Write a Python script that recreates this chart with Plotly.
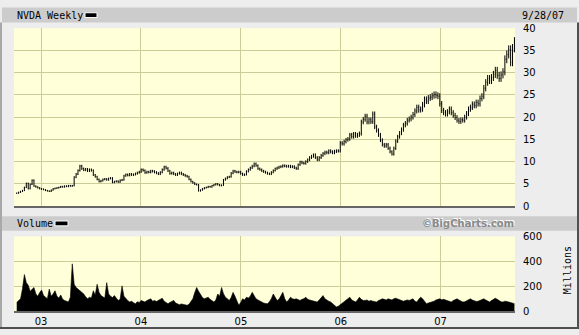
import pandas as pd
import plotly.graph_objects as go

W, H = 579, 335

# ---- data ----
start_week = "2002-10-04"
close = [
    2.9, 3.1, 3.3, 3.5, 4.2, 5.1, 3.9, 4.9, 5.8, 4.5,
    4.3, 4.1, 3.9, 3.8, 3.7, 3.5, 3.4, 3.3, 3.6, 3.9,
    4.0, 4.1, 4.2, 4.4, 4.3, 4.5, 4.4, 4.6, 4.5, 4.6,
    6.5, 7.2, 8.0, 9.0, 8.4, 8.1, 8.3, 7.9, 8.2, 8.0,
    7.0, 6.6, 6.0, 5.5, 5.7, 6.0, 6.1, 5.9, 6.2, 6.3,
    5.3, 5.5, 5.6, 5.4, 5.8, 5.9, 6.8, 7.1, 6.9, 7.2,
    7.0, 7.1, 7.3, 7.5, 7.7, 8.2, 8.0, 7.5, 7.7, 7.6,
    7.9, 7.8, 7.6, 7.4, 7.2, 7.6, 8.2, 8.8, 8.5, 7.9,
    7.3, 7.5, 7.2, 7.0, 7.3, 7.5, 7.2, 7.0, 6.8, 6.6,
    6.0, 5.5, 5.2, 4.9, 4.8, 3.4, 3.6, 3.9, 4.1, 4.2,
    4.4, 4.3, 4.6, 4.8, 5.0, 4.8, 4.6, 4.7, 5.9, 6.2,
    6.5, 6.6, 7.4, 7.9, 7.7, 7.6, 7.7, 7.3, 7.0, 7.1,
    7.8, 8.2, 8.6, 9.0, 9.5, 9.1, 8.4, 8.2, 7.9, 7.7,
    7.5, 7.3, 7.2, 7.6, 8.0, 8.4, 8.6, 8.8, 8.9, 9.1,
    9.0, 8.9, 9.0, 8.8, 8.9, 8.6, 8.4, 9.3, 9.9, 9.7,
    9.6, 10.0, 10.4, 10.9, 11.2, 11.5, 10.9, 10.4, 10.9, 11.4,
    11.8, 12.1, 12.0, 12.4, 12.2, 12.0, 12.3, 12.4, 12.4, 14.2,
    14.0, 14.5, 14.9, 15.1, 16.0, 15.6, 16.2, 15.8, 16.0, 16.3,
    18.9, 19.5, 20.2, 18.9, 19.4, 19.0, 20.7, 17.8, 17.0, 16.0,
    14.8, 13.8, 13.5, 13.8, 13.0, 12.2, 11.7, 13.0, 14.6, 15.6,
    16.4, 17.2, 18.2, 18.6, 19.3, 19.6, 20.0, 20.6, 21.4, 22.2,
    21.6, 21.8, 22.8, 24.0, 23.6, 24.3, 24.5, 24.8, 25.1, 24.9,
    24.7, 23.0, 21.5, 21.0, 20.7, 21.2, 21.8, 21.0, 20.4, 19.9,
    19.3, 19.0, 19.4, 19.3, 20.0, 20.8, 21.8, 22.2, 22.9, 22.6,
    23.3, 23.0, 24.2, 24.7, 26.5, 27.8, 28.7, 28.2, 28.9, 29.6,
    30.5, 29.4, 28.7, 29.5, 30.2, 33.0, 34.1, 35.2, 32.3, 35.5,
    37.0,
]
volume_m = [
    70, 85, 100, 180, 294, 229, 208, 160, 177, 190,
    138, 120, 150, 169, 125, 112, 100, 177, 120, 138,
    164, 120, 105, 130, 95, 86, 78, 73, 112, 380,
    216, 190, 177, 164, 150, 138, 115, 99, 112, 105,
    164, 130, 216, 151, 125, 112, 105, 229, 138, 120,
    110, 125, 100, 86, 95, 203, 120, 99, 85, 73,
    80, 68, 60, 75, 70, 86, 78, 73, 85, 90,
    99, 80, 86, 78, 85, 95, 104, 80, 70, 60,
    70, 78, 86, 65, 60, 52, 58, 55, 50, 47,
    55, 73, 100, 150, 190, 160, 138, 110, 99, 105,
    112, 95, 85, 73, 90, 138, 120, 190, 140, 112,
    100, 86, 110, 151, 120, 80, 47, 70, 99, 90,
    112, 105, 120, 151, 125, 99, 90, 80, 73, 65,
    62, 60, 75, 100, 138, 110, 86, 95, 120, 151,
    100, 73, 90, 112, 100, 95, 99, 90, 86, 95,
    100, 112, 95, 90, 86, 80, 78, 73, 90, 105,
    125, 100, 86, 80, 73, 60, 45, 34, 40, 52,
    60, 70, 85, 95, 112, 90, 80, 73, 90, 112,
    95, 86, 86, 90, 80, 86, 80, 75, 73, 85,
    92, 99, 95, 90, 99, 95, 90, 100, 104, 98,
    92, 86, 80, 85, 90, 86, 95, 99, 80, 73,
    95, 112, 100, 80, 60, 65, 70, 73, 80, 90,
    95, 99, 91, 95, 90, 85, 80, 73, 85, 95,
    99, 90, 80, 73, 75, 85, 95, 99, 90, 82,
    78, 80, 85, 95, 99, 90, 80, 73, 85, 95,
    104, 95, 85, 75, 73, 80, 78, 73, 70, 65,
    60,
]
price_ticks = [0, 5, 10, 15, 20, 25, 30, 35, 40]
volume_ticks = [0, 200, 400, 600]
title_text = "NVDA Weekly"
date_text = "9/28/07"

dates = pd.date_range(start_week, periods=len(close), freq="7D")
opens = [close[0]] + close[:-1]
high = [max(o, c) * 1.025 + 0.05 for o, c in zip(opens, close)]
low = [min(o, c) * 0.975 - 0.05 for o, c in zip(opens, close)]

# ---- styling ----
BG = "#EDEDED"
BAR = "#CCCCCC"
PLOT_BG = "#FFFFDA"
GRID = "#CCCC99"
MONO = "DejaVu Sans Mono"
SANS = "DejaVu Sans"


def px(x):
    return x / W


def py(y):
    return 1 - y / H


fig = go.Figure()
fig.add_trace(go.Ohlc(
    x=dates, open=opens, high=high, low=low, close=close,
    increasing=dict(line=dict(color="black", width=1)),
    decreasing=dict(line=dict(color="black", width=1)),
    tickwidth=0.25, xaxis="x", yaxis="y", showlegend=False, hoverinfo="skip",
))
fig.add_trace(go.Scatter(
    x=dates, y=volume_m, mode="lines", fill="tozeroy",
    line=dict(color="black", width=0.6), fillcolor="black",
    xaxis="x2", yaxis="y2", showlegend=False, hoverinfo="skip",
))

xdom = [px(14), px(515)]
xr = ["2002-09-24", "2007-09-30"]
common_x = dict(
    type="date", range=xr, domain=xdom, showgrid=True, gridcolor=GRID,
    gridwidth=1, dtick="M12", tick0="2003-01-01", ticks="",
    showline=True, linecolor="#666666", linewidth=2, zeroline=False,
    rangeslider=dict(visible=False), fixedrange=True,
)
fig.update_layout(
    width=W, height=H, margin=dict(l=0, r=0, t=0, b=0),
    paper_bgcolor=BG, plot_bgcolor=PLOT_BG,
    xaxis=dict(common_x, anchor="y", showticklabels=False),
    xaxis2=dict(common_x, anchor="y2", matches="x", tickformat="%y",
                tickfont=dict(family=SANS, size=10, color="black")),
    yaxis=dict(domain=[py(207.5), py(23)], range=[0, 40], tickvals=price_ticks,
               side="right", showgrid=True, gridcolor=GRID, zeroline=False,
               ticks="", ticklabelstandoff=7,
               tickfont=dict(family=SANS, size=10, color="black")),
    yaxis2=dict(domain=[py(316.5), py(239)], range=[0, 600], tickvals=volume_ticks,
                side="right", showgrid=True, gridcolor=GRID, zeroline=False,
                ticks="", ticklabelstandoff=7,
                tickfont=dict(family=SANS, size=10, color="black")),
)

shapes = []
# header bars
shapes.append(dict(type="rect", xref="paper", yref="paper", x0=px(2), x1=px(577),
                   y0=py(17), y1=py(1.5), fillcolor=BAR, line=dict(width=0), layer="below"))
shapes.append(dict(type="rect", xref="paper", yref="paper", x0=px(2), x1=px(577),
                   y0=py(233), y1=py(218), fillcolor=BAR, line=dict(width=0), layer="below"))
# legend swatches
shapes.append(dict(type="rect", xref="paper", yref="paper", x0=px(85), x1=px(97),
                   y0=py(12), y1=py(7), fillcolor="black", line=dict(color="white", width=1)))
shapes.append(dict(type="rect", xref="paper", yref="paper", x0=px(55), x1=px(68),
                   y0=py(228), y1=py(223), fillcolor="black", line=dict(color="white", width=1)))
# outer frame
shapes.append(dict(type="rect", xref="paper", yref="paper", x0=0, x1=px(2),
                   y0=0, y1=py(17), fillcolor="#A8A8A8", line=dict(width=0)))
shapes.append(dict(type="rect", xref="paper", yref="paper", x0=0, x1=1,
                   y0=0, y1=py(333), fillcolor="#505050", line=dict(width=0)))
shapes.append(dict(type="rect", xref="paper", yref="paper", x0=px(577), x1=1,
                   y0=0, y1=py(17), fillcolor="#505050", line=dict(width=0)))
fig.update_layout(shapes=shapes)

ann = [
    dict(text=title_text, x=px(15), y=py(9.5), xanchor="left", yanchor="middle",
         font=dict(family=MONO, size=10, color="black")),
    dict(text=date_text, x=px(566), y=py(9.5), xanchor="right", yanchor="middle",
         font=dict(family=MONO, size=10, color="black")),
    dict(text="Volume", x=px(15), y=py(225.5), xanchor="left", yanchor="middle",
         font=dict(family=MONO, size=10, color="black")),
    dict(text="©BigCharts.com", x=px(516.5), y=py(225), xanchor="right", yanchor="middle",
         font=dict(family=SANS, size=10, color="white", weight="bold")),
    dict(text="©BigCharts.com", x=px(516), y=py(225.5), xanchor="right", yanchor="middle",
         font=dict(family=SANS, size=10, color="#8A8A8A", weight="bold")),
    dict(text="Millions", x=px(567), y=py(274), xanchor="center", yanchor="middle",
         textangle=-90, font=dict(family=MONO, size=10, color="black")),
]
for a in ann:
    a.update(xref="paper", yref="paper", showarrow=False)
fig.update_layout(annotations=ann)

fig.write_html("out.html")
